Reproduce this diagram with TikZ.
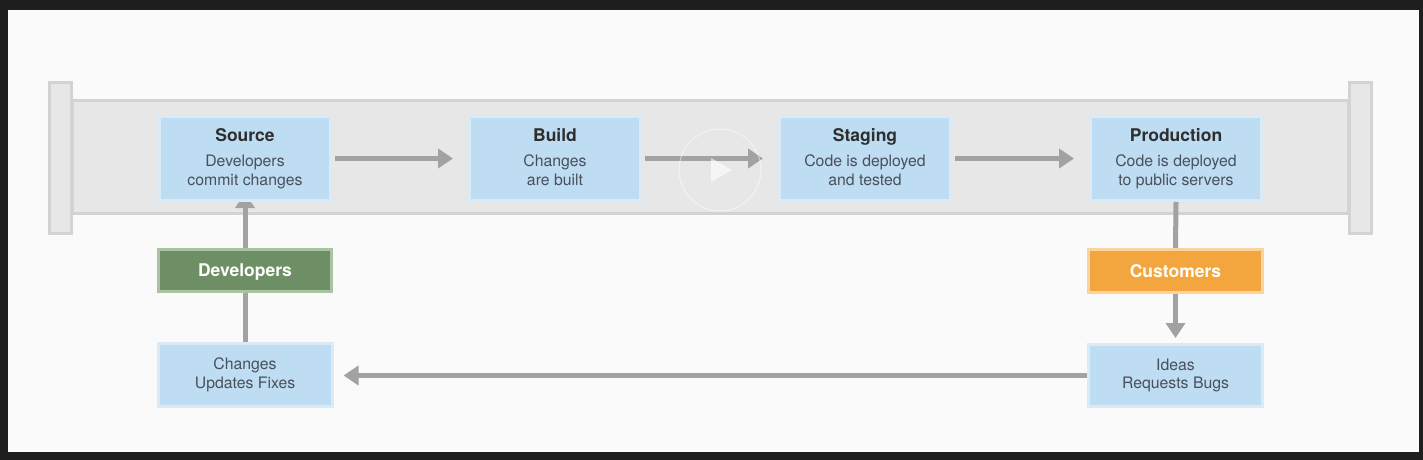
\documentclass[tikz,border=0pt]{standalone}
\usepackage{fontspec}
\setmainfont{TeX Gyre Heros}
\usetikzlibrary{arrows.meta}
\definecolor{frame}{HTML}{1E1E1E}
\definecolor{paper}{HTML}{FAFAFA}
\definecolor{pipefill}{HTML}{E7E7E7}
\definecolor{pipeedge}{HTML}{D3D3D3}
\definecolor{boxblue}{HTML}{BEDCF2}
\definecolor{boxedge}{HTML}{DAEAF7}
\definecolor{titletxt}{HTML}{2E2E2E}
\definecolor{bodytxt}{HTML}{48505B}
\definecolor{arrowgray}{HTML}{A2A2A2}
\definecolor{devgreen}{HTML}{6E8F66}
\definecolor{devedge}{HTML}{AAC3A3}
\definecolor{custorange}{HTML}{F4A63E}
\definecolor{custedge}{HTML}{FBD39E}
\newcommand{\ttl}[1]{{\fontsize{17.5}{18.5}\selectfont\bfseries\color{titletxt}#1}}
\newcommand{\mydescender}{\vphantom{g}}
\pgfdeclarelayer{bgpipe}
\pgfdeclarelayer{mid}
\pgfsetlayers{bgpipe,mid,main}
\begin{document}
\begin{tikzpicture}[x=1pt,y=-1pt,
  stagebox/.style={rectangle, fill=boxblue, draw=boxedge, line width=3pt,
    minimum width=171pt, minimum height=84pt, align=center, inner sep=0pt,
    text=bodytxt, font=\fontsize{15.8}{18.5}\selectfont},
  notebox/.style={stagebox, minimum width=174pt, minimum height=63pt},
  actorbox/.style={rectangle, line width=3pt, minimum width=173pt, minimum height=42pt,
    inner sep=0pt, text height=12.6pt, text depth=0pt, text=white,
    font=\fontsize{17.5}{18.5}\selectfont\bfseries},
  conn/.style={draw=arrowgray, line width=5pt},
  arr/.style={conn, -{Triangle[length=15pt,width=19pt]}},
  pipecap/.style={fill=pipefill, draw=pipeedge, line width=3pt}
]
% frame, paper and pipe
\begin{pgfonlayer}{bgpipe}
\fill[frame] (0,0) rectangle (1423,460);
\fill[paper] (8,10) rectangle (1419,452);
\draw[pipecap] (72,100.5) rectangle (1348,213.5);
\draw[pipecap] (49.5,82.5) rectangle (71.5,233.5);
\draw[pipecap] (1349.5,82.5) rectangle (1371.5,233.5);
\end{pgfonlayer}
\useasboundingbox (0,0) rectangle (1423,460);
% stage boxes
\node[stagebox] (src) at (245,158.5) {\ttl{Source}\\[6.5pt]Developers\\commit changes\mydescender};
\node[stagebox] (bld) at (555,158.5) {\ttl{Build}\\[6.5pt]Changes\\are built\mydescender};
\node[stagebox] (stg) at (865,158.5) {\ttl{Staging}\\[6.5pt]Code is deployed\\and tested\mydescender};
\node[stagebox] (prd) at (1176,158.5) {\ttl{Production}\\[6.5pt]Code is deployed\\to public servers\mydescender};
% actors
\node[actorbox, fill=devgreen, draw=devedge] (dev) at (245,270.5) {Developers};
\node[actorbox, fill=custorange, draw=custedge, minimum width=174pt, minimum height=43pt] (cus) at (1175.5,271) {Customers};
% notes
\node[notebox] (chg) at (245,375) {Changes\\Updates Fixes\mydescender};
\node[notebox, minimum height=62pt] (ide) at (1175.5,375.5) {Ideas\\Requests Bugs\mydescender};
% connectors
\begin{pgfonlayer}{mid}
\draw[arr, shorten <=3pt, shorten >=15pt] (src.east) -- (bld.west);
\draw[arr, shorten <=3pt, shorten >=15pt] (bld.east) -- (stg.west);
\draw[arr, shorten <=3pt, shorten >=15pt] (stg.east) -- (prd.west);
\draw[arr, shorten >=-9pt] (dev.north) -- (src.south);
\end{pgfonlayer}
\draw[conn] (chg.north) -- (dev.south);
\draw[conn] (prd.south) -- (cus.north);
\draw[arr, shorten >=5pt] (cus.south) -- (ide.north);
\draw[arr, shorten >=10pt] (ide.west) -- (ide.west -| chg.east);
% video play overlay
\draw[white, opacity=0.45, line width=1.2pt] (720,170) circle[radius=41];
\fill[white, opacity=0.6] (711,158) -- (732,170) -- (711,182) -- cycle;
\end{tikzpicture}
\end{document}
